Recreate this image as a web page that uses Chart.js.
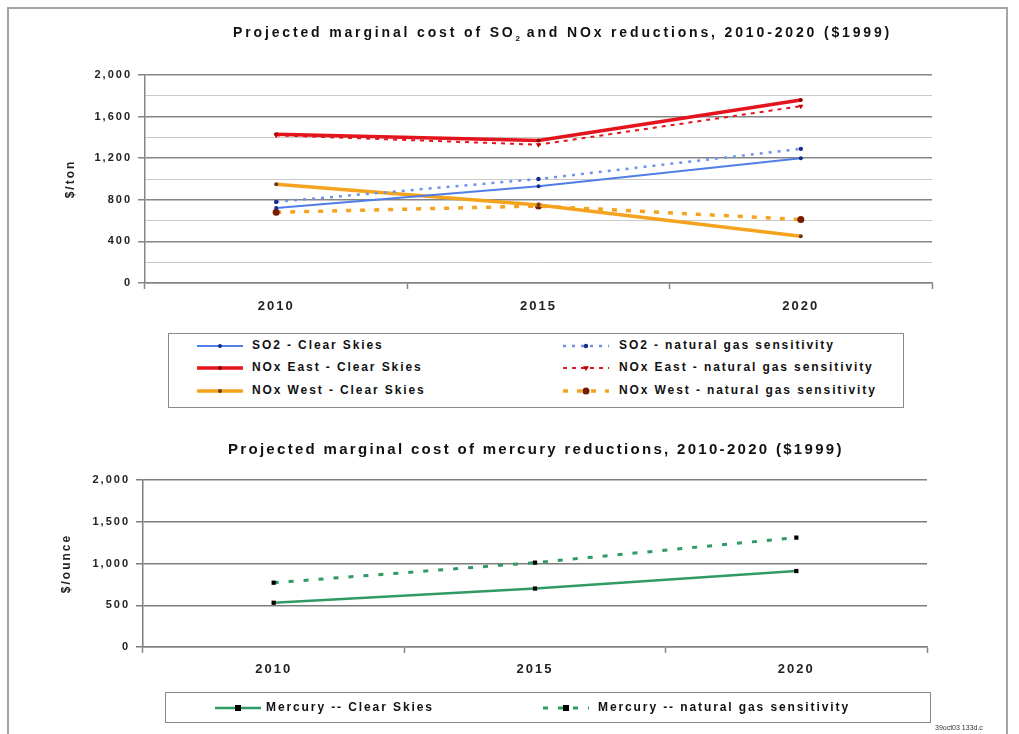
<!DOCTYPE html>
<html><head><meta charset="utf-8">
<script src="https://cdn.jsdelivr.net/npm/chart.js@4/dist/chart.umd.min.js"></script>
<style>
html,body{margin:0;padding:0;background:#fff;}
body{width:1019px;height:734px;overflow:hidden;position:relative;font-family:"Liberation Sans",Arial,sans-serif;color:#111;}
.frame{position:absolute;left:7px;top:7px;width:1001px;height:760px;border:2px solid #a4a4a4;box-sizing:border-box;}
.cv{position:absolute;left:0;}
.title{position:absolute;white-space:nowrap;font-weight:bold;color:#111;}
.legend{position:absolute;border:1.5px solid #8a8a8a;box-sizing:border-box;}
.item{position:absolute;white-space:nowrap;font-weight:bold;font-size:12px;letter-spacing:1.9px;color:#111;line-height:13px;}
.sample{position:absolute;}
.foot{position:absolute;left:935px;top:724px;font-size:7px;color:#333;white-space:nowrap;}
</style></head>
<body>
<div class="frame"></div>
<canvas id="c1" class="cv" width="1019" height="330" style="top:0"></canvas>
<canvas id="c2" class="cv" width="1019" height="300" style="top:420px"></canvas>
<div class="title" id="t1" style="left:233px;top:24px;font-size:14px;letter-spacing:2.85px;">Projected marginal cost of SO<sub style="font-size:8px;letter-spacing:0">2</sub> and NOx reductions, 2010-2020 ($1999)</div>
<div class="title" id="t2" style="left:228px;top:440px;font-size:15px;letter-spacing:2.3px;">Projected marginal cost of mercury reductions, 2010-2020 ($1999)</div>
<div class="legend" style="left:168px;top:333px;width:736px;height:75px;"></div>
<div class="legend" style="left:165px;top:692px;width:766px;height:31px;"></div>
<div id="leg"></div>
<div class="foot">39oct03 133d.c</div>
<script>
// ---- data ----
const years = ['2010', '2015', '2020'];
const so2Clear = [720, 930, 1200];
const so2Gas = [780, 1000, 1290];
const noxEastClear = [1430, 1370, 1760];
const noxEastGas = [1420, 1330, 1700];
const noxWestClear = [950, 750, 450];
const noxWestGas = [680, 740, 610];
const mercuryClear = [530, 700, 910];
const mercuryGas = [770, 1010, 1310];
const tonMax = 2000, tonStep = 200, tonLabelStep = 400;
const ounceMax = 2000, ounceStep = 500;

const spacing = {
  id: 'spacing',
  beforeDraw(chart) { chart.ctx.letterSpacing = '2px'; }
};

const topSets = [
  {label: 'SO2 - Clear Skies', data: so2Clear, borderColor: '#4f7fe6', borderWidth: 2, pointRadius: 2, pointBackgroundColor: '#1a2a8a', pointBorderWidth: 0},
  {label: 'SO2 - natural gas sensitivity', data: so2Gas, borderColor: '#6d94ea', borderWidth: 2.5, borderDash: [3, 6], pointRadius: 2.2, pointBackgroundColor: '#1a2a8a', pointBorderWidth: 0},
  {label: 'NOx West - Clear Skies', data: noxWestClear, borderColor: '#f5a21f', borderWidth: 3.5, pointRadius: 2, pointBackgroundColor: '#6b3a10', pointBorderWidth: 0},
  {label: 'NOx West - natural gas sensitivity', data: noxWestGas, borderColor: '#f5a21f', borderWidth: 3.5, borderDash: [5, 9], pointRadius: 3.5, pointBackgroundColor: '#7a1a00', pointBorderWidth: 0},
  {label: 'NOx East - natural gas sensitivity', data: noxEastGas, borderColor: '#e3141b', borderWidth: 2, borderDash: [4, 5], pointStyle: 'triangle', rotation: 180, pointRadius: 3, pointBackgroundColor: '#c00000', pointBorderWidth: 0},
  {label: 'NOx East - Clear Skies', data: noxEastClear, borderColor: '#e3141b', borderWidth: 3.5, pointRadius: 2, pointBackgroundColor: '#8b0000', pointBorderWidth: 0}
];
topSets.forEach(d => { d.fill = false; d.tension = 0; d.pointHoverRadius = d.pointRadius; });

const botSets = [
  {label: 'Mercury -- Clear Skies', data: mercuryClear, borderColor: '#2f9a63', borderWidth: 2.5, pointStyle: 'rect', pointRadius: 3, pointBackgroundColor: '#000', pointBorderWidth: 0},
  {label: 'Mercury -- natural gas sensitivity', data: mercuryGas, borderColor: '#2f9a63', borderWidth: 3, borderDash: [5, 10], pointStyle: 'rect', pointRadius: 3, pointBackgroundColor: '#000', pointBorderWidth: 0}
];
botSets.forEach(d => { d.fill = false; d.tension = 0; });

function xScale(padding, edgeColor, edgeWidth) {
  return {
    type: 'category', offset: true,
    grid: {offset: true, drawOnChartArea: true, drawTicks: true, tickLength: 6,
      color: c => c.index === years.length ? edgeColor : 'rgba(0,0,0,0)',
      lineWidth: c => c.index === years.length ? edgeWidth : 1,
      tickColor: '#858585', tickWidth: 1.5},
    border: {display: true, color: '#858585', width: 1.5},
    ticks: {font: {family: '"Liberation Sans", Arial', size: 13, weight: 'bold'}, color: '#222', padding: padding, maxRotation: 0},
    afterFit: s => { s.height = 30; }
  };
}

new Chart(document.getElementById('c1'), {
  type: 'line',
  data: {labels: years, datasets: topSets},
  options: {
    responsive: false, animation: false,
    layout: {padding: {top: 75, left: 0, right: 87, bottom: 17}},
    plugins: {legend: {display: false}, tooltip: {enabled: false}, title: {display: false}},
    scales: {
      x: xScale(10, '#909090', 1.5),
      y: {
        min: 0, max: tonMax,
        ticks: {stepSize: tonStep, autoSkip: false, padding: 6, color: '#222',
          font: {family: '"Liberation Sans", Arial', size: 11, weight: 'bold'},
          callback: v => v % tonLabelStep === 0 ? v.toLocaleString('en-US') : ''},
        grid: {tickLength: 7,
          color: c => (c.tick && c.tick.value % tonLabelStep === 0) ? '#858585' : '#c9c9c9',
          lineWidth: c => (c.tick && c.tick.value % tonLabelStep === 0) ? 1.5 : 1,
          tickColor: c => (c.tick && c.tick.value % tonLabelStep === 0) ? '#858585' : 'rgba(0,0,0,0)'},
        border: {display: true, color: '#858585', width: 1.5},
        title: {display: true, text: '$/ton', color: '#222', padding: {top: 63, bottom: 0},
          font: {family: '"Liberation Sans", Arial', size: 12, weight: 'bold'}},
        afterFit: s => { s.width = 145; }
      }
    }
  },
  plugins: [spacing]
});

new Chart(document.getElementById('c2'), {
  type: 'line',
  data: {labels: years, datasets: botSets},
  options: {
    responsive: false, animation: false,
    layout: {padding: {top: 60, left: 0, right: 92, bottom: 43}},
    plugins: {legend: {display: false}, tooltip: {enabled: false}, title: {display: false}},
    scales: {
      x: xScale(9, '#000000', 2.5),
      y: {
        min: 0, max: ounceMax,
        ticks: {stepSize: ounceStep, autoSkip: false, padding: 6, color: '#222',
          font: {family: '"Liberation Sans", Arial', size: 11, weight: 'bold'},
          callback: v => v.toLocaleString('en-US')},
        grid: {tickLength: 7, color: '#7d7d7d', lineWidth: 1.5, tickColor: '#7d7d7d'},
        border: {display: true, color: '#7d7d7d', width: 1.5},
        title: {display: true, text: '$/ounce', color: '#222', padding: {top: 59, bottom: 0},
          font: {family: '"Liberation Sans", Arial', size: 12, weight: 'bold'}},
        afterFit: s => { s.width = 143; }
      }
    }
  },
  plugins: [spacing]
});

// ---- HTML legends built from the dataset styles ----
const legendPlaces = {
  'SO2 - Clear Skies': [197, 346, 252],
  'NOx East - Clear Skies': [197, 368, 252],
  'NOx West - Clear Skies': [197, 391, 252],
  'SO2 - natural gas sensitivity': [563, 346, 619],
  'NOx East - natural gas sensitivity': [563, 368, 619],
  'NOx West - natural gas sensitivity': [563, 391, 619],
  'Mercury -- Clear Skies': [215, 708, 266],
  'Mercury -- natural gas sensitivity': [543, 708, 598]
};
const leg = document.getElementById('leg');
const ns = 'http://www.w3.org/2000/svg';
topSets.concat(botSets).forEach(d => {
  const p = legendPlaces[d.label];
  const w = 46, h = 12;
  const svg = document.createElementNS(ns, 'svg');
  svg.setAttribute('width', w); svg.setAttribute('height', h);
  svg.setAttribute('class', 'sample');
  svg.style.left = p[0] + 'px'; svg.style.top = (p[1] - h / 2) + 'px';
  const ln = document.createElementNS(ns, 'line');
  ln.setAttribute('x1', 0); ln.setAttribute('x2', w); ln.setAttribute('y1', h / 2); ln.setAttribute('y2', h / 2);
  ln.setAttribute('stroke', d.borderColor); ln.setAttribute('stroke-width', d.borderWidth);
  if (d.borderDash) ln.setAttribute('stroke-dasharray', d.borderDash.join(' '));
  svg.appendChild(ln);
  const r = d.pointRadius, cx = w / 2, cy = h / 2;
  let m;
  if (d.pointStyle === 'rect') {
    m = document.createElementNS(ns, 'rect');
    m.setAttribute('x', cx - r); m.setAttribute('y', cy - r); m.setAttribute('width', 2 * r); m.setAttribute('height', 2 * r);
  } else if (d.pointStyle === 'triangle') {
    m = document.createElementNS(ns, 'polygon');
    m.setAttribute('points', `${cx - r},${cy - r * 0.6} ${cx + r},${cy - r * 0.6} ${cx},${cy + r}`);
  } else {
    m = document.createElementNS(ns, 'circle');
    m.setAttribute('cx', cx); m.setAttribute('cy', cy); m.setAttribute('r', r);
  }
  m.setAttribute('fill', d.pointBackgroundColor);
  svg.appendChild(m);
  leg.appendChild(svg);
  const t = document.createElement('div');
  t.className = 'item';
  t.style.left = p[2] + 'px'; t.style.top = (p[1] - 7) + 'px';
  t.textContent = d.label;
  leg.appendChild(t);
});
</script>
</body></html>
